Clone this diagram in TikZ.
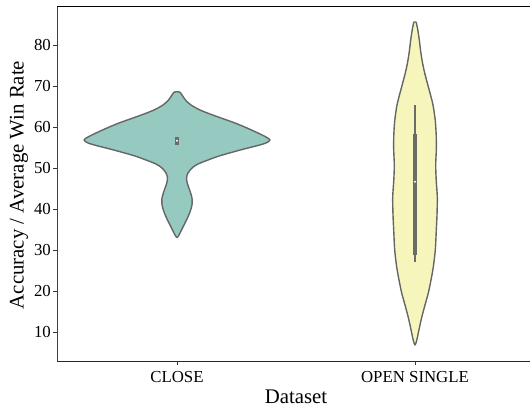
\documentclass[tikz,border=0pt]{standalone}
\usepackage{fontspec}
\setmainfont{Liberation Serif}
\definecolor{closefill}{RGB}{150,202,193}
\definecolor{openfill}{RGB}{246,246,188}
\definecolor{vedge}{RGB}{102,102,102}
\definecolor{boxgray}{RGB}{107,107,107}
\begin{document}
\begin{tikzpicture}[x=1pt,y=-1pt,
  violinedge/.style={draw=vedge, line width=1.4pt, line join=round},
  ticklab/.style={font=\fontsize{16.8}{18}\selectfont, inner sep=0pt, text=black},
  axlab/.style={font=\fontsize{20.8}{22}\selectfont, inner sep=0pt, text=black},
  tickline/.style={draw=black!80, line width=0.9pt},
  innerbox/.style={fill=boxgray, draw=none},
  meddot/.style={fill=white, draw=none}]
\useasboundingbox (0,0) rectangle (530,407);

% violins
\draw[violinedge, fill=closefill] plot[smooth cycle, tension=0.5] coordinates {
(179.5,92) (182,95) (185.5,100) (191,105) (200,110) (210,114) (221,118) (235,123) (247,128) (258,133) (266,137) (270,140) (266,143) (256,146) (244,149) (233,152) (219,156) (208,160) (198,164) (192,168) (188,173) (186.5,178) (187.5,184) (190,191) (192,198) (192,205) (190,212) (187,219) (183.5,226) (181,231) (179,235) (177,237.5)
(175,235) (173,231) (170.5,226) (167,219) (164,212) (162,205) (162,198) (164,191) (166.5,184) (167.5,178) (166,173) (162,168) (156,164) (146,160) (135,156) (121,152) (110,149) (98,146) (88,143) (84,140) (88,137) (96,133) (107,128) (119,123) (133,118) (144,114) (154,110) (163,105) (168.5,100) (172,95) (174.5,92)};

\draw[violinedge, fill=openfill] plot[smooth cycle, tension=0.5] coordinates {
(416,22) (416.8,25) (417.8,30) (419.3,40) (420.5,50) (422,60) (424,70) (426.5,80) (430,93) (433,105) (435.2,120) (436.2,135) (436.3,150) (435.7,165) (436.2,180) (437.3,197) (437,215) (436.3,230) (435.3,250) (433.3,267) (431,280) (428.3,293) (425,305) (421.8,317) (420,325) (418.3,333) (416.8,340) (415,345)
(413.2,340) (411.7,333) (410,325) (408.2,317) (405,305) (401.7,293) (399,280) (396.7,267) (394.7,250) (393.7,230) (393,215) (392.7,197) (393.8,180) (394.3,165) (393.7,150) (393.8,135) (394.8,120) (397,105) (400,93) (403.5,80) (406,70) (408,60) (409.5,50) (410.7,40) (412.2,30) (413.2,25) (414,22)};

% inner boxes
\fill[innerbox] (174.8,136.5) rectangle (179.2,144.5);
\fill[meddot] (177,140.8) circle (1.1);
\draw[boxgray, line width=1.5pt] (415,105) -- (415,262);
\fill[innerbox] (412.7,134) rectangle (417.3,255);
\fill[meddot] (415,181.7) circle (1.1);

% spines
\draw[black!75, line width=1pt] (57,6) -- (57,361);
\draw[black!85, line width=1pt] (57,361) -- (530,361);
\draw[black, line width=1pt] (57,6) -- (530,6);

% y ticks
\foreach \v in {10,20,...,80} {
  \pgfmathsetmacro\yy{332-(\v-10)*4.1}
  \draw[tickline] (53,\yy) -- (57,\yy);
  \node[ticklab, anchor=east] (yl\v) at (51,\yy) {\v};
}
% x ticks
\draw[tickline] (177,361) -- (177,365);
\draw[tickline] (415,361) -- (415,365);
\node[ticklab, anchor=base] (xclose) at (177,382) {CLOSE};
\node[ticklab, anchor=base] (xopen) at (415,382) {OPEN SINGLE};

% axis labels
\node[axlab, anchor=base] (xlabel) at (296,403) {Dataset};
\node[axlab, rotate=90] (ylabel) at (19,185) {Accuracy / Average Win Rate};
\end{tikzpicture}
\end{document}
